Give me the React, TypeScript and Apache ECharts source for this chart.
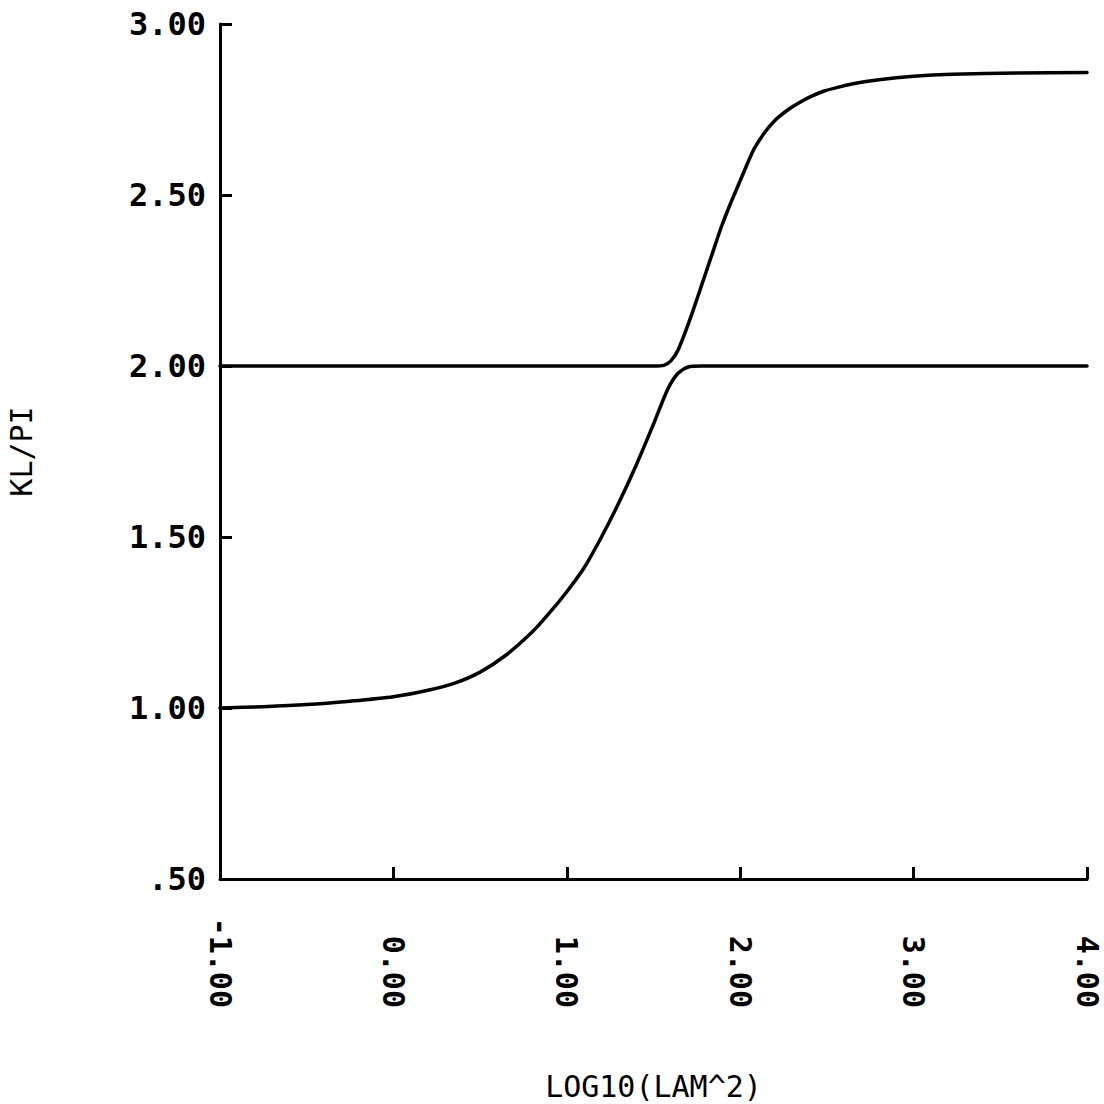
import React, { useEffect, useRef } from "react";
import * as echarts from "echarts";

// Lower branch: KL/PI rising from 1 to 2
const lowerX = [-1.0, -0.75, -0.5, -0.25, 0.0, 0.2, 0.35, 0.5, 0.65, 0.8, 0.9, 1.0, 1.1, 1.2, 1.3, 1.4, 1.5, 1.58, 1.64, 1.7, 1.78, 2.5, 4.0];
const lowerY = [1.0, 1.004, 1.01, 1.02, 1.033, 1.052, 1.072, 1.105, 1.155, 1.222, 1.278, 1.34, 1.41, 1.5, 1.6, 1.71, 1.83, 1.93, 1.978, 1.997, 2.0, 2.0, 2.0];

// Upper branch: KL/PI flat at 2, then rising toward ~2.86
const upperX = [-1.0, 1.0, 1.5, 1.56, 1.6, 1.64, 1.68, 1.73, 1.78, 1.84, 1.89, 1.94, 1.99, 2.04, 2.08, 2.14, 2.2, 2.27, 2.335, 2.4, 2.485, 2.58, 2.66, 2.8, 3.0, 3.22, 3.6, 4.0];
const upperY = [2.0, 2.0, 2.0, 2.002, 2.015, 2.045, 2.095, 2.165, 2.24, 2.33, 2.405, 2.47, 2.53, 2.59, 2.635, 2.682, 2.718, 2.747, 2.768, 2.786, 2.804, 2.817, 2.826, 2.837, 2.847, 2.853, 2.857, 2.858];

const xTicks = { min: -1, max: 4, step: 1 };
const yTicks = { min: 0.5, max: 3.0, step: 0.5 };

const FONT = "DejaVu Sans Mono";

function pairs(xs: number[], ys: number[]) {
  return xs.map((x, i) => [x, ys[i]]);
}

export default function App() {
  const ref = useRef<HTMLDivElement>(null);

  useEffect(() => {
    if (!ref.current) return;
    const chart = echarts.init(ref.current, null, { renderer: "svg" });
    const lineStyle = { color: "#000", width: 3.5, join: "round", cap: "round" };
    chart.setOption({
      animation: false,
      backgroundColor: "#fff",
      grid: { left: 220, right: 17, top: 24, bottom: 225, outerBoundsMode: "none" },
      xAxis: {
        type: "value",
        min: xTicks.min,
        max: xTicks.max,
        interval: xTicks.step,
        name: "LOG10(LAM^2)",
        nameLocation: "middle",
        nameGap: 192,
        nameTextStyle: { fontFamily: FONT, fontSize: 30, color: "#000" },
        axisLine: { show: true, onZero: false, lineStyle: { color: "#000", width: 3 } },
        axisTick: { show: true, inside: true, length: 12, lineStyle: { color: "#000", width: 3 } },
        splitLine: { show: false },
        axisLabel: {
          rotate: -90,
          align: "right",
          margin: 129,
          fontFamily: FONT,
          fontSize: 30,
          fontWeight: "bold",
          color: "#000",
          formatter: (v: number) => v.toFixed(2),
        },
      },
      yAxis: {
        type: "value",
        min: yTicks.min,
        max: yTicks.max,
        interval: yTicks.step,
        name: "KL/PI",
        nameLocation: "middle",
        nameGap: 184,
        nameTextStyle: { fontFamily: FONT, fontSize: 30, color: "#000" },
        axisLine: { show: true, onZero: false, lineStyle: { color: "#000", width: 3 } },
        axisTick: { show: true, inside: true, length: 12, lineStyle: { color: "#000", width: 3 } },
        splitLine: { show: false },
        axisLabel: {
          margin: 14,
          fontFamily: FONT,
          fontSize: 32,
          fontWeight: "bold",
          color: "#000",
          formatter: (v: number) => (v < 1 ? v.toFixed(2).replace(/^0/, "") : v.toFixed(2)),
        },
      },
      series: [
        {
          type: "line",
          data: pairs(lowerX, lowerY),
          showSymbol: false,
          smooth: 0.25,
          lineStyle,
        },
        {
          type: "line",
          data: pairs(upperX, upperY),
          showSymbol: false,
          smooth: 0.25,
          lineStyle,
        },
      ],
    });
    return () => chart.dispose();
  }, []);

  return (
    <div
      ref={ref}
      style={{ position: "absolute", left: 0, top: 0, width: 1104, height: 1104 }}
    />
  );
}
